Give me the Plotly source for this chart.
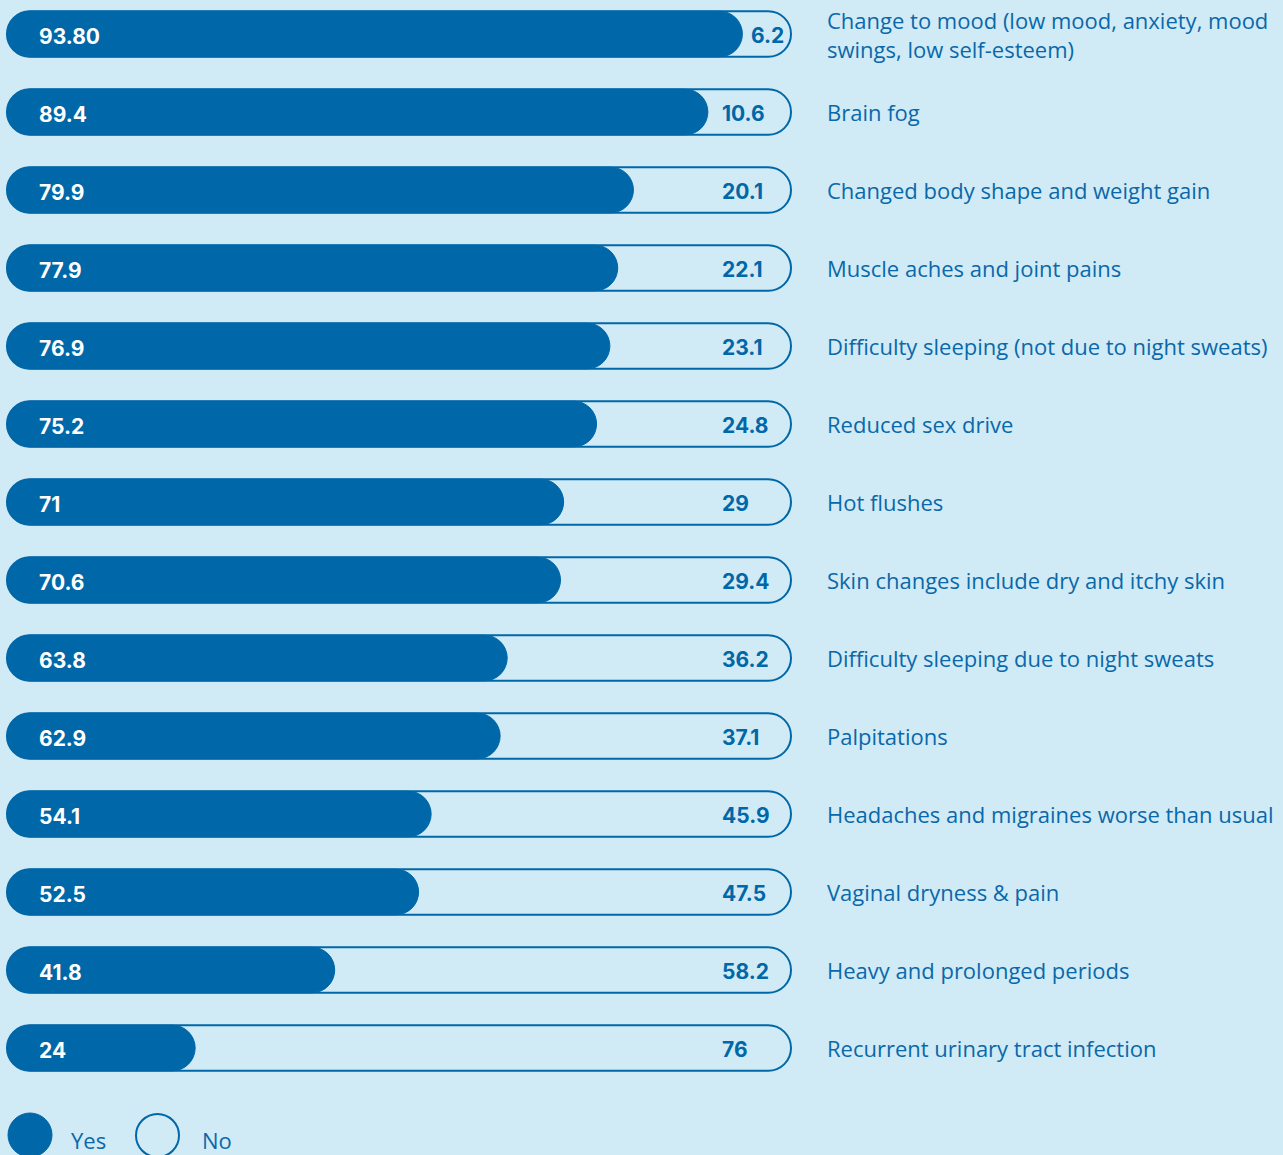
import plotly.graph_objects as go

categories = [
    "Change to mood (low mood, anxiety, mood<br>swings, low self-esteem)",
    "Brain fog",
    "Changed body shape and weight gain",
    "Muscle aches and joint pains",
    "Difficulty sleeping (not due to night sweats)",
    "Reduced sex drive",
    "Hot flushes",
    "Skin changes include dry and itchy skin",
    "Difficulty sleeping due to night sweats",
    "Palpitations",
    "Headaches and migraines worse than usual",
    "Vaginal dryness & pain",
    "Heavy and prolonged periods",
    "Recurrent urinary tract infection",
]
yes_vals = [93.8, 89.4, 79.9, 77.9, 76.9, 75.2, 71, 70.6, 63.8, 62.9, 54.1, 52.5, 41.8, 24]
no_vals = [6.2, 10.6, 20.1, 22.1, 23.1, 24.8, 29, 29.4, 36.2, 37.1, 45.9, 47.5, 58.2, 76]
yes_labels = ["93.80", "89.4", "79.9", "77.9", "76.9", "75.2", "71", "70.6", "63.8", "62.9", "54.1", "52.5", "41.8", "24"]
no_labels = ["6.2", "10.6", "20.1", "22.1", "23.1", "24.8", "29", "29.4", "36.2", "37.1", "45.9", "47.5", "58.2", "76"]
legend_labels = ["Yes", "No"]

DARK = "#0067a8"
BG = "#d0ebf6"
TXT = "#0a68aa"
W, H = 1283, 1155
NUMFONT = "Inter"

# pixel mapping (layout helpers)
PX0, PX100 = 7.0, 791.0
scale = (PX100 - PX0) / 100.0
x_range = [-PX0 / scale, 100 + (W - PX100) / scale]
ROW0, ROWSTEP = 34.0, 78.0
y_range = [(H - ROW0) / ROWSTEP, -ROW0 / ROWSTEP]

n = len(categories)
rows = list(range(n))
BW = 0.585

fig = go.Figure()
totals = [y + nv for y, nv in zip(yes_vals, no_vals)]
# outline pill (100%)
fig.add_trace(go.Bar(
    y=rows, x=totals, base=[0] * n, orientation="h",
    width=BW, marker=dict(color=BG, line=dict(color=DARK, width=2), cornerradius="50%"),
    hoverinfo="skip", showlegend=False))
# dark yes pill
fig.add_trace(go.Bar(
    y=rows, x=yes_vals, base=[0] * n, orientation="h",
    width=BW, marker=dict(color=DARK, line=dict(color=DARK, width=1), cornerradius="50%"),
    hoverinfo="skip", showlegend=False))

# yes value labels
for i, t in enumerate(yes_labels):
    fig.add_annotation(x=(37 - PX0) / scale, y=i, text=t, xanchor="left", yanchor="middle",
                       showarrow=False, yshift=-2,
                       font=dict(family=NUMFONT, size=21, color="white", weight=700))
# no value labels
for i, t in enumerate(no_labels):
    fig.add_annotation(x=max((720 - PX0) / scale, yes_vals[i] + 0.9), y=i, text=t,
                       xanchor="left", yanchor="middle", showarrow=False, yshift=-1,
                       font=dict(family=NUMFONT, size=21, color=DARK, weight=700))

# category labels
for i, c in enumerate(categories):
    fig.add_annotation(x=(825 - PX0) / scale, y=i, text=c, xanchor="left", yanchor="middle",
                       showarrow=False, align="left",
                       font=dict(family="Open Sans", size=22, color=TXT))

# legend
fig.add_shape(type="circle", xref="paper", yref="paper",
              x0=8 / W, x1=52 / W, y0=1 - 1157 / H, y1=1 - 1113 / H,
              fillcolor=DARK, line=dict(color=DARK, width=1))
fig.add_shape(type="circle", xref="paper", yref="paper",
              x0=136 / W, x1=179 / W, y0=1 - 1157 / H, y1=1 - 1114 / H,
              fillcolor=BG, line=dict(color=DARK, width=2))
fig.add_annotation(xref="paper", yref="paper", x=69 / W, y=1 - 1140 / H, text=legend_labels[0],
                   xanchor="left", yanchor="middle", showarrow=False,
                   font=dict(family="Open Sans", size=22, color=TXT))
fig.add_annotation(xref="paper", yref="paper", x=200 / W, y=1 - 1140 / H, text=legend_labels[1],
                   xanchor="left", yanchor="middle", showarrow=False,
                   font=dict(family="Open Sans", size=22, color=TXT))

fig.update_layout(
    width=W, height=H, margin=dict(l=0, r=0, t=0, b=0),
    paper_bgcolor=BG, plot_bgcolor=BG, barmode="overlay",
    xaxis=dict(range=x_range, visible=False, fixedrange=True),
    yaxis=dict(range=y_range, visible=False, fixedrange=True),
)
fig.write_html("out.html")
